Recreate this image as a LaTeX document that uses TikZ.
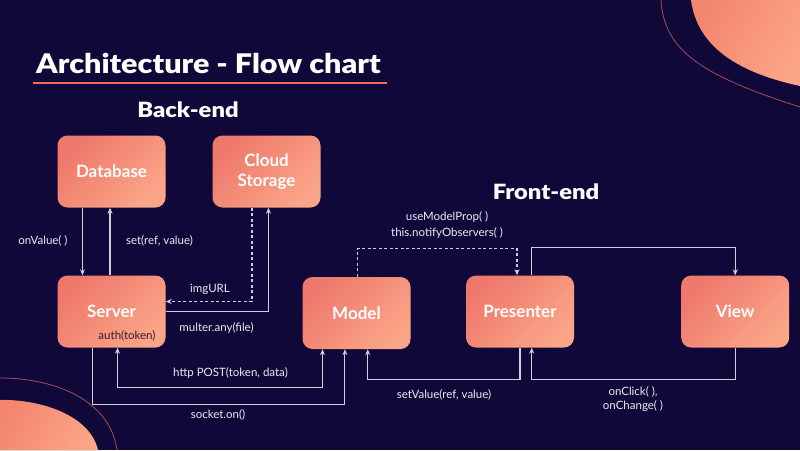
\documentclass[tikz,border=0pt]{standalone}
\usepackage{fontspec}
\setmainfont{Lato}
\IfFontExistsTF{Lato Black}
  {\newfontfamily\headfont[FakeStretch=1.13]{Lato Black}}
  {\newfontfamily\headfont[FakeStretch=1.15,FakeBold=1]{Lato Bold}}
\usetikzlibrary{arrows.meta}

\definecolor{bg}{HTML}{100838}
\definecolor{boxA}{HTML}{EE786B}
\definecolor{boxB}{HTML}{FBA588}
\definecolor{wirecol}{HTML}{CFCFDC}
\definecolor{accent}{HTML}{F0695A}
\definecolor{blobA}{HTML}{F4866F}
\definecolor{blobB}{HTML}{FBA487}
\definecolor{blobline}{HTML}{A84A5A}
\definecolor{innertext}{HTML}{3B1A2E}
\definecolor{labeltext}{HTML}{ECEAF4}

\begin{document}
\begin{tikzpicture}[x=1pt,y=-1pt,
  block/.style={rounded corners=10pt, minimum width=108pt, minimum height=72pt,
    inner sep=0pt, left color=boxA, right color=boxB, shading angle=45,
    text=white, align=center, font=\bfseries\fontsize{17}{20}\selectfont},
  wire/.style={draw=wirecol, line width=1.1pt, -{Stealth[length=6pt,width=5pt]}},
  dwire/.style={wire, dash pattern=on 3pt off 2.5pt},
  lbl/.style={text=labeltext, inner sep=0pt, font=\fontsize{11.5}{13.5}\selectfont, align=center},
  heading/.style={text=white, inner sep=0pt, anchor=base, font=\headfont\fontsize{21}{25}\selectfont}
]
% canvas
\fill[bg] (0,0) rectangle (800,450);
\useasboundingbox (0,0) rectangle (800,450);

% corner decorations
\fill[left color=blobA, right color=blobB, shading angle=60]
  (691,0) .. controls (697,45) and (735,72) .. (800,86) -- (800,0) -- cycle;
\draw[blobline, line width=0.8pt] (661,0) .. controls (664,50) and (700,75) .. (800,107);
\fill[left color=blobA, right color=blobB, shading angle=60]
  (0,400) .. controls (40,399) and (90,415) .. (98,450) -- (0,450) -- cycle;
\draw[blobline, line width=0.8pt] (0,378) .. controls (55,378) and (110,400) .. (117,450);

% titles
\node[text=white, inner sep=0pt, anchor=base west, font=\headfont\fontsize{27}{32}\selectfont]
  (title) at (36,73) {Architecture - Flow chart};
\draw[accent, line width=2.2pt] (33,83.3) -- (387,83.3);
\node[heading] (backend) at (188,117.5) {Back-end};
\node[heading] (frontend) at (546,199.3) {Front-end};

% blocks
\node[block] (db) at (111.5,171.5) {Database};
\node[block] (cloud) at (266.5,171.5) {Cloud\\Storage};
\node[block] (srv) at (111.5,311.5) {Server};
\node[block] (model) at (356.5,313) {Model};
\node[block] (pres) at (520,311.5) {Presenter};
\node[block] (view) at (735.2,311.5) {View};
\node[inner sep=0pt, text=innertext, font=\fontsize{11.5}{13.5}\selectfont]
  (auth) at (127,335.7) {auth(token)};

% back-end connectors
\draw[wire] ([xshift=-29pt]db.south) -- ([xshift=-29pt]srv.north);
\draw[wire] ([xshift=-1.5pt]srv.north) -- ([xshift=-1.5pt]db.south);
\draw[dwire] ([xshift=-14.5pt]cloud.south) |- ([yshift=10pt]srv.east);
\draw[wire] (srv.east) -| ([xshift=2pt]cloud.south);

% server <-> model
\draw[wire, {Stealth[length=6pt,width=5pt]}-{Stealth[length=6pt,width=5pt]}]
  ([xshift=6pt]srv.south) -- ++(0,39.4) -| ([xshift=-34pt]model.south);
\draw[wire] ([xshift=-19.2pt]srv.south) -- ++(0,57) -| ([xshift=-11.6pt]model.south);

% front-end connectors
\draw[wire] (pres.south) -- ++(0,31.7) -| ([xshift=11.2pt]model.south);
\draw[wire] (view.south) -- ++(0,31.7) -| ([xshift=11.7pt]pres.south);
\draw[dwire] ([xshift=0.8pt]model.north) -- ++(0,-28.3) -| ([xshift=-3pt]pres.north);
\draw[wire] ([xshift=11.7pt]pres.north) -- ++(0,-27.7) -| (view.north);

% connector labels
\node[lbl] (l1) at (43,240.7) {onValue( )};
\node[lbl] (l2) at (159.5,240.5) {set(ref, value)};
\node[lbl] (l3) at (210,289) {imgURL};
\node[lbl] (l4) at (216.5,328) {multer.any(file)};
\node[lbl] (l5) at (230.5,373) {http POST(token, data)};
\node[lbl] (l6) at (218,415) {socket.on()};
\node[lbl] (l7) at (444,395) {setValue(ref, value)};
\node[lbl] (l8) at (633,399) {onClick( ),\\onChange( )};
\node[lbl] (l9) at (447,216.7) {useModelProp( )};
\node[lbl] (l10) at (447,233.3) {this.notifyObservers( )};
\end{tikzpicture}
\end{document}
